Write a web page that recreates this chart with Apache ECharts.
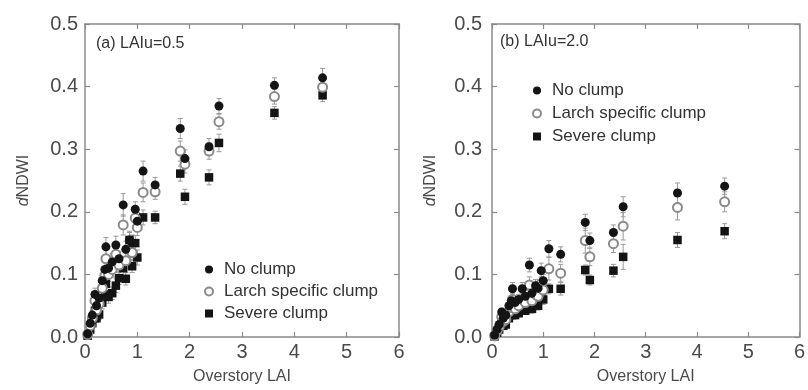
<!DOCTYPE html>
<html>
<head>
<meta charset="utf-8">
<script src="https://cdn.jsdelivr.net/npm/echarts@6/dist/echarts.min.js"></script>
<style>
html,body{margin:0;padding:0;background:#fff;}
#chart{width:808px;height:390px;}
</style>
</head>
<body>
<div id="chart"></div>
<script>
// Overstory LAI values (same stands in both panels)
const lai = [0.05, 0.10, 0.14, 0.19, 0.22, 0.27, 0.33, 0.38, 0.40, 0.45, 0.52, 0.59, 0.65, 0.73, 0.78, 0.85, 0.90, 0.96, 1.00, 1.11, 1.34, 1.82, 1.91, 2.37, 2.56, 3.62, 4.54];

// Panel (a) LAIu = 0.5
const noClumpA   = [0.005,0.022,0.035,0.068,0.050,0.062,0.090,0.108,0.144,0.110,0.120,0.147,0.125,0.211,0.140,0.155,0.150,0.204,0.185,0.265,0.243,0.333,0.285,0.304,0.369,0.402,0.414];
const larchA     = [0.004,0.018,0.030,0.058,0.043,0.053,0.078,0.098,0.125,0.100,0.108,0.132,0.115,0.179,0.122,0.140,0.135,0.190,0.175,0.231,0.232,0.297,0.276,0.297,0.344,0.384,0.399];
const severeA    = [0.002,0.012,0.022,0.042,0.030,0.036,0.055,0.068,0.085,0.064,0.070,0.082,0.094,0.110,0.093,0.155,0.113,0.150,0.127,0.191,0.191,0.261,0.224,0.255,0.310,0.358,0.386];
const errNoA     = [0.003,0.006,0.008,0.010,0.008,0.009,0.012,0.013,0.015,0.012,0.013,0.014,0.012,0.018,0.013,0.014,0.013,0.012,0.014,0.016,0.012,0.016,0.014,0.013,0.012,0.012,0.015];
const errLarchA  = [0.003,0.005,0.007,0.009,0.008,0.009,0.011,0.012,0.014,0.011,0.012,0.013,0.012,0.016,0.012,0.013,0.012,0.013,0.013,0.015,0.012,0.016,0.014,0.013,0.012,0.012,0.014];
const errSevereA = [0.002,0.004,0.006,0.008,0.007,0.008,0.010,0.010,0.012,0.010,0.010,0.011,0.010,0.012,0.010,0.012,0.010,0.012,0.012,0.012,0.010,0.012,0.012,0.012,0.014,0.010,0.010];

// Panel (b) LAIu = 2.0
const noClumpB   = [0.003,0.012,0.020,0.040,0.030,0.035,0.050,0.058,0.077,0.055,0.060,0.077,0.065,0.115,0.070,0.082,0.078,0.106,0.090,0.141,0.132,0.183,0.154,0.167,0.208,0.230,0.241];
const larchB     = [0.002,0.010,0.016,0.032,0.025,0.028,0.040,0.047,0.060,0.045,0.050,0.060,0.055,0.083,0.058,0.068,0.065,0.085,0.075,0.109,0.102,0.154,0.128,0.149,0.177,0.207,0.216];
const severeB    = [0.001,0.007,0.012,0.025,0.018,0.020,0.030,0.035,0.045,0.035,0.038,0.048,0.042,0.062,0.045,0.052,0.050,0.070,0.060,0.077,0.077,0.107,0.091,0.106,0.128,0.155,0.169];
const errNoB     = [0.002,0.004,0.005,0.006,0.005,0.006,0.008,0.008,0.010,0.008,0.008,0.010,0.009,0.011,0.009,0.010,0.010,0.012,0.010,0.013,0.012,0.013,0.012,0.012,0.016,0.016,0.013];
const errLarchB  = [0.002,0.004,0.005,0.006,0.005,0.006,0.007,0.008,0.009,0.008,0.008,0.009,0.008,0.013,0.009,0.010,0.009,0.011,0.010,0.018,0.014,0.020,0.014,0.014,0.022,0.020,0.016];
const errSevereB = [0.001,0.003,0.004,0.005,0.004,0.005,0.006,0.006,0.007,0.006,0.006,0.007,0.006,0.008,0.007,0.008,0.007,0.009,0.008,0.008,0.010,0.008,0.008,0.010,0.020,0.012,0.012];

const seriesNames = ['No clump', 'Larch specific clump', 'Severe clump'];
const xTicks = [0, 1, 2, 3, 4, 5, 6];
const yTicks = [0.0, 0.1, 0.2, 0.3, 0.4, 0.5];

const AXIS_COLOR = '#8a8a8a';
const LABEL_COLOR = '#4a4a4a';

function pts(ys) { return lai.map((x, i) => [x, ys[i]]); }
function errPts(ys, es) { return lai.map((x, i) => [x, ys[i], es[i]]); }

function errRender(params, api) {
  const x = api.value(0), y = api.value(1), e = api.value(2);
  const t = api.coord([x, y + e]);
  const b = api.coord([x, y - e]);
  const w = 2.5;
  const st = { stroke: '#9a9a9a', lineWidth: 1 };
  return { type: 'group', children: [
    { type: 'line', shape: { x1: t[0], y1: t[1], x2: b[0], y2: b[1] }, style: st },
    { type: 'line', shape: { x1: t[0] - w, y1: t[1], x2: t[0] + w, y2: t[1] }, style: st },
    { type: 'line', shape: { x1: b[0] - w, y1: b[1], x2: b[0] + w, y2: b[1] }, style: st }
  ]};
}

function xAx(grid, pos) {
  const bottom = pos === 'bottom';
  return {
    type: 'value', gridIndex: grid, position: pos,
    min: xTicks[0], max: xTicks[xTicks.length - 1], interval: 1,
    splitLine: { show: false },
    axisLine: { show: true, onZero: false, lineStyle: { color: AXIS_COLOR, width: 1.5 } },
    axisTick: { show: true, inside: true, length: 5, lineStyle: { color: AXIS_COLOR, width: 1.2 } },
    axisLabel: { show: bottom, color: LABEL_COLOR, fontSize: 20, fontFamily: 'Liberation Sans, Arial, sans-serif', margin: 5 },
    name: bottom ? 'Overstory LAI' : '',
    nameLocation: 'middle', nameGap: 32,
    nameTextStyle: { color: LABEL_COLOR, fontSize: 16, fontFamily: 'Liberation Sans, Arial, sans-serif' }
  };
}
function yAx(grid, pos, margin) {
  const left = pos === 'left';
  return {
    type: 'value', gridIndex: grid, position: pos,
    min: yTicks[0], max: yTicks[yTicks.length - 1], interval: 0.1,
    splitLine: { show: false },
    axisLine: { show: true, onZero: false, lineStyle: { color: AXIS_COLOR, width: 1.5 } },
    axisTick: { show: true, inside: true, length: 5, lineStyle: { color: AXIS_COLOR, width: 1.2 } },
    axisLabel: { show: left, color: LABEL_COLOR, fontSize: 20, fontFamily: 'Liberation Sans, Arial, sans-serif', margin: margin,
      formatter: v => v.toFixed(1) },
    name: left ? '{i|d}NDWI' : '',
    nameLocation: 'middle', nameGap: 53, nameRotate: 90,
    nameTextStyle: { color: LABEL_COLOR, fontSize: 16, fontFamily: 'Liberation Sans, Arial, sans-serif',
      rich: { i: { fontStyle: 'italic', fontSize: 16, color: LABEL_COLOR, fontFamily: 'Liberation Sans, Arial, sans-serif' } } }
  };
}

const symStyles = [
  { symbol: 'circle', symbolSize: 9, itemStyle: { color: '#141414', opacity: 1 } },
  { symbol: 'emptyCircle', symbolSize: 9, itemStyle: { color: '#8a8a8a', borderWidth: 1.2, opacity: 1 } },
  { symbol: 'rect', symbolSize: 8.5, itemStyle: { color: '#141414', opacity: 1 } }
];

const panels = [
  { ys: [noClumpA, larchA, severeA], es: [errNoA, errLarchA, errSevereA], ax: 0 },
  { ys: [noClumpB, larchB, severeB], es: [errNoB, errLarchB, errSevereB], ax: 2 }
];

const series = [];
panels.forEach(p => {
  p.ys.forEach((ys, k) => {
    series.push({
      type: 'custom', name: seriesNames[k] + ' err', xAxisIndex: p.ax, yAxisIndex: p.ax,
      renderItem: errRender, data: errPts(ys, p.es[k]), encode: { x: 0, y: 1 }, z: 1, silent: true
    });
  });
  // draw severe first, then larch, then no clump on top
  [2, 1, 0].forEach(k => {
    series.push(Object.assign({
      type: 'scatter', name: seriesNames[k], xAxisIndex: p.ax, yAxisIndex: p.ax,
      data: pts(p.ys[k]), z: 3 + (2 - k)
    }, symStyles[k]));
  });
});

const legendText = { color: '#333', fontSize: 17, fontFamily: 'Liberation Sans, Arial, sans-serif', padding: [0, 0, 0, 6] };

const option = {
  animation: false,
  backgroundColor: '#fff',
  grid: [
    { left: 85, top: 24, width: 314, height: 314 },
    { left: 492, top: 24, width: 315, height: 315 }
  ],
  xAxis: [xAx(0, 'bottom'), xAx(0, 'top'), xAx(1, 'bottom'), xAx(1, 'top')],
  yAxis: [yAx(0, 'left', 7), yAx(0, 'right', 7), yAx(1, 'left', 10), yAx(1, 'right', 7)],
  legend: [
    { data: seriesNames, orient: 'vertical', left: 199, top: 256, itemGap: 5, itemWidth: 8, itemHeight: 8, textStyle: legendText },
    { data: seriesNames, orient: 'vertical', left: 527, top: 77, itemGap: 6, itemWidth: 8, itemHeight: 8, textStyle: legendText }
  ],
  graphic: [
    { type: 'text', left: 96, top: 36, style: { text: '(a) LAIu=0.5', fill: '#333', fontSize: 16, fontFamily: 'Liberation Sans, Arial, sans-serif' } },
    { type: 'text', left: 500, top: 34, style: { text: '(b) LAIu=2.0', fill: '#333', fontSize: 16, fontFamily: 'Liberation Sans, Arial, sans-serif' } }
  ],
  series: series
};

const chart = echarts.init(document.getElementById('chart'), null, { renderer: 'canvas' });
chart.setOption(option);
</script>
</body>
</html>
